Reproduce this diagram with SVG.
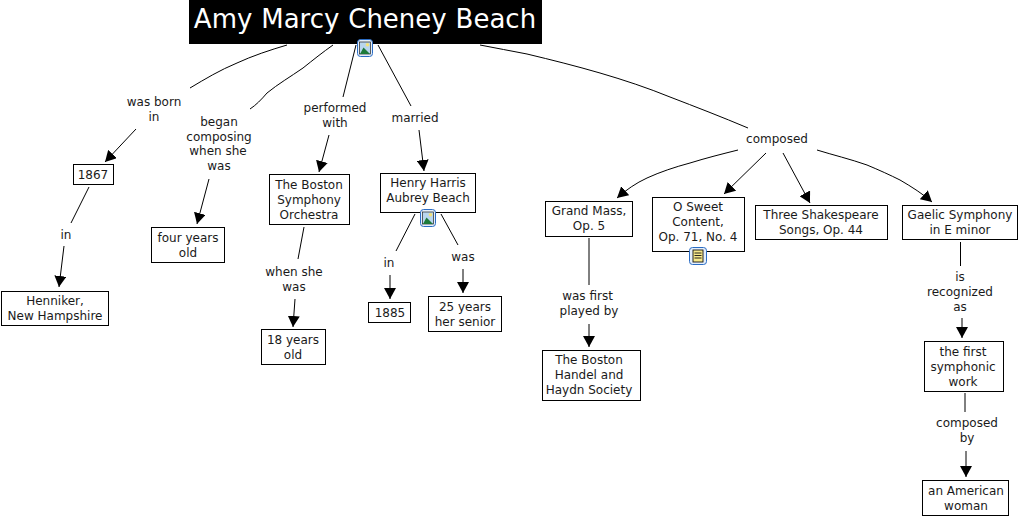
<svg xmlns="http://www.w3.org/2000/svg" width="1020" height="518" viewBox="0 0 1020 518">
<style>
text{font-family:"DejaVu Sans",Verdana,sans-serif;font-size:12px;fill:#1a1a1a;text-anchor:middle}
.n{fill:#fff;stroke:#000;stroke-width:1}
.c{fill:none;stroke:#000;stroke-width:1}
.a{marker-end:url(#ah)}
.t{font-size:26px;fill:#fff;word-spacing:.6px}
</style>
<defs>
<marker id="ah" markerUnits="userSpaceOnUse" markerWidth="12" markerHeight="12" refX="11" refY="6" orient="auto"><path d="M0 0L11 6L0 12Z" fill="#000"/></marker>
<g id="img"><rect x="0.500" y="0.500" width="15" height="17" rx="3" fill="#e3eefb" stroke="#2a6cc4"/><rect x="2.500" y="3" width="11" height="12" fill="#b9d6ee" stroke="#222" stroke-width=".7"/><path d="M3 15L6.500 8.500L10 12L13 15Z" fill="#1d7a3a"/><circle cx="10.500" cy="5.800" r="1.800" fill="#f4e27a"/></g>
<g id="doc"><rect x="0.500" y="0.500" width="17" height="17" rx="3" fill="#e3eefb" stroke="#2a6cc4"/><rect x="4" y="3" width="10" height="12" fill="#f7e98a" stroke="#111" stroke-width=".9"/><path d="M5.500 6H12.500M5.500 8.500H12.500M5.500 11H12.500" stroke="#111" stroke-width=".9"/></g>
</defs>
<g id="connectors">
<path class="c" d="M287 45C270 50 252 56 237 63C220 70 205 79 190 88"/>
<path class="c a" d="M136 129L105 162"/>
<path class="c" d="M333 45C323 52 313 60 303 68C290 77 278 84 267 93C261 100 256 105 250 109"/>
<path class="c a" d="M209 179L197 224"/>
<path class="c" d="M356 45L343 97"/>
<path class="c a" d="M329 135L319 172"/>
<path class="c" d="M378 45L411 106"/>
<path class="c a" d="M419 130L424 171"/>
<path class="c" d="M480 45C496 48 511 51 527 54C552 60 576 66 600 73C624 80 648 88 670 97C696 107 722 117 748 128"/>
<path class="c" d="M89 187L71 223"/>
<path class="c a" d="M64 246L59 287"/>
<path class="c" d="M304 227L298 259"/>
<path class="c a" d="M295 299L293 327"/>
<path class="c" d="M415 214L396 251"/>
<path class="c a" d="M390 275L390 299"/>
<path class="c" d="M441 214L458 245"/>
<path class="c a" d="M463 269L463 293"/>
<path class="c a" d="M738 150C722 154 706 158 690 163C675 167 660 172 647 178C636 183 626 190 617 198"/>
<path class="c a" d="M766 153L724 194"/>
<path class="c a" d="M783 153L810 203"/>
<path class="c a" d="M817 150C833 155 850 159 867 165C879 170 890 175 900 180C912 187 923 194 932 202"/>
<path class="c" d="M589 238L589 285"/>
<path class="c a" d="M589 324L589 347"/>
<path class="c" d="M960.500 242L960.500 266"/>
<path class="c a" d="M962 318L962 338"/>
<path class="c" d="M965 393L965 412"/>
<path class="c a" d="M966 451L966 477"/>
</g>
<g id="title"><rect x="189" y="0" width="353" height="44" fill="#000"/><text class="t" x="365" y="28">Amy Marcy Cheney Beach</text><use href="#img" x="357" y="39"/></g>
<g id="n1867"><rect class="n" x="73.500" y="164.500" width="40" height="20"/><text x="93" y="179">1867</text></g>
<g id="henniker"><rect class="n" x="1.500" y="291.500" width="107" height="34"/><text x="55" y="305">Henniker,</text><text x="55" y="320">New Hampshire</text></g>
<g id="four"><rect class="n" x="151.500" y="227.500" width="73" height="35"/><text x="188" y="242">four years</text><text x="188" y="257">old</text></g>
<g id="bso"><rect class="n" x="269.500" y="174.500" width="80" height="50"/><text x="309" y="189">The Boston</text><text x="309" y="204">Symphony</text><text x="309" y="219">Orchestra</text></g>
<g id="eighteen"><rect class="n" x="261.500" y="329.500" width="64" height="35"/><text x="293" y="344">18 years</text><text x="293" y="359">old</text></g>
<g id="henry"><rect class="n" x="380.500" y="173.500" width="95" height="39"/><text x="428" y="187">Henry Harris</text><text x="428" y="202">Aubrey Beach</text><use href="#img" x="420" y="209"/></g>
<g id="n1885"><rect class="n" x="368.500" y="302.500" width="42" height="20"/><text x="390" y="317">1885</text></g>
<g id="senior"><rect class="n" x="428.500" y="296.500" width="73" height="35"/><text x="465" y="311">25 years</text><text x="465" y="326">her senior</text></g>
<g id="grand"><rect class="n" x="545.500" y="201.500" width="87" height="35"/><text x="589" y="215">Grand Mass,</text><text x="589" y="230">Op. 5</text></g>
<g id="sweet"><rect class="n" x="652.500" y="197.500" width="92" height="54"/><text x="698" y="211">O Sweet</text><text x="698" y="226">Content,</text><text x="698" y="241">Op. 71, No. 4</text><use href="#doc" x="689" y="247"/></g>
<g id="three"><rect class="n" x="755.500" y="205.500" width="132" height="34"/><text x="821" y="219">Three Shakespeare</text><text x="821" y="234">Songs, Op. 44</text></g>
<g id="gaelic"><rect class="n" x="902.500" y="205.500" width="115" height="34"/><text x="960" y="219">Gaelic Symphony</text><text x="960" y="234">in E minor</text></g>
<g id="handel"><rect class="n" x="542.500" y="350.500" width="98" height="50"/><text x="589" y="364">The Boston</text><text x="589" y="379">Handel and</text><text x="589" y="394">Haydn Society</text></g>
<g id="work"><rect class="n" x="924.500" y="341.500" width="79" height="50"/><text x="963" y="356">the first</text><text x="963" y="371">symphonic</text><text x="963" y="386">work</text></g>
<g id="woman"><rect class="n" x="922.500" y="480.500" width="86" height="35"/><text x="966" y="495">an American</text><text x="966" y="510">woman</text></g>
<g id="labels">
<text x="154" y="106">was born</text><text x="154" y="121">in</text>
<text x="219" y="126">began</text><text x="219" y="141">composing</text><text x="218" y="155">when she</text><text x="219" y="170">was</text>
<text x="335" y="112">performed</text><text x="335" y="127">with</text>
<text x="415" y="122">married</text>
<text x="777" y="143">composed</text>
<text x="66" y="239">in</text>
<text x="294" y="276">when she</text><text x="294" y="291">was</text>
<text x="389" y="267">in</text>
<text x="463" y="261">was</text>
<text x="587.500" y="300">was first</text><text x="589" y="315">played by</text>
<text x="960" y="281">is</text><text x="960" y="296">recognized</text><text x="960" y="311">as</text>
<text x="967" y="427">composed</text><text x="967" y="442">by</text>
</g>
</svg>
